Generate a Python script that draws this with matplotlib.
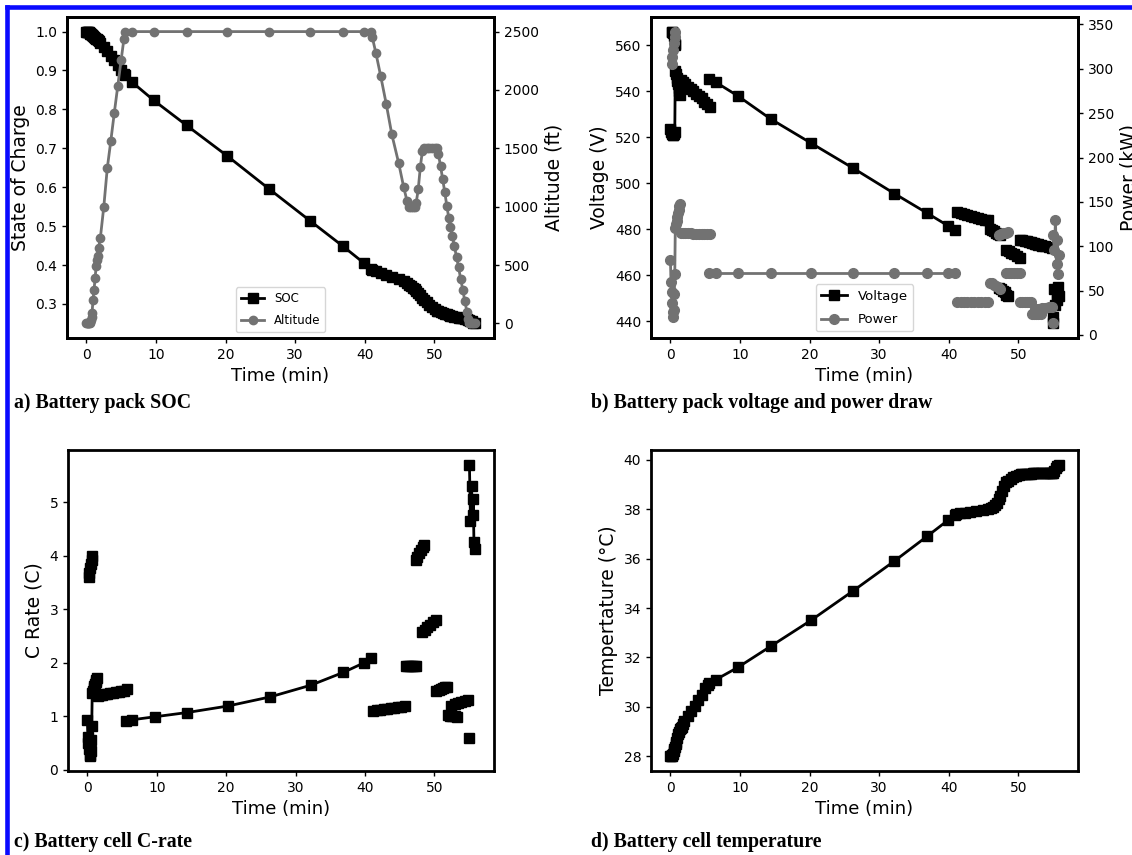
import numpy as np
import matplotlib
matplotlib.use('Agg')
import matplotlib.pyplot as plt
from matplotlib.lines import Line2D

# ---- data: continuous mission time series (panels a and d)
time_min = [0.0, 0.1, 0.2, 0.3,
            0.35, 0.45, 0.55, 0.65, 0.75,
            0.8, 0.95, 1.1, 1.25, 1.4, 1.5,
            1.6, 1.75, 2.0, 2.5, 3.0, 3.5, 4.0, 4.5, 5.0, 5.4,
            5.5, 6.5, 9.7, 14.4, 20.2, 26.3, 32.2, 36.9, 39.9, 40.9,
            41.1, 41.6, 42.3, 43.1, 43.9, 44.9, 45.6, 46.1,
            46.3, 46.6, 46.9, 47.2,
            47.4, 47.7, 48.0, 48.3,
            48.5, 48.9, 49.3, 49.7, 50.1, 50.4,
            50.6, 50.9, 51.2, 51.5, 51.8, 52.1,
            52.3, 52.6, 52.9, 53.2,
            53.5, 53.8, 54.1, 54.4, 54.7, 54.9,
            55.0,
            55.2, 55.4, 55.6, 55.8]

soc = [1.0, 1.0, 0.999, 0.999,
       0.998, 0.997, 0.995, 0.993, 0.991,
       0.990, 0.988, 0.986, 0.984, 0.982, 0.980,
       0.978, 0.975, 0.970, 0.960, 0.949, 0.938, 0.926, 0.914, 0.902, 0.892,
       0.888, 0.871, 0.823, 0.759, 0.681, 0.595, 0.513, 0.448, 0.405, 0.390,
       0.387, 0.384, 0.380, 0.375, 0.370, 0.364, 0.358, 0.353,
       0.350, 0.346, 0.342, 0.338,
       0.334, 0.328, 0.322, 0.316,
       0.311, 0.304, 0.298, 0.292, 0.287, 0.283,
       0.281, 0.279, 0.277, 0.275, 0.273, 0.271,
       0.270, 0.268, 0.267, 0.266,
       0.265, 0.264, 0.263, 0.262, 0.261, 0.260,
       0.259,
       0.257, 0.255, 0.252, 0.250]

altitude_ft = [0, 0, 0, 0,
               0, 5, 15, 30, 55,
               85, 200, 290, 390, 490, 540,
               580, 650, 730, 1000, 1330, 1560, 1800, 2030, 2260, 2440,
               2500, 2500, 2500, 2500, 2500, 2500, 2500, 2500, 2500, 2500,
               2450, 2320, 2120, 1880, 1620, 1370, 1170, 1045,
               1000, 1000, 1000, 1000,
               1030, 1150, 1340, 1480,
               1500, 1500, 1500, 1500, 1500, 1500,
               1450, 1350, 1240, 1130, 1010, 900,
               830, 750, 660, 570,
               480, 380, 290, 190, 100, 40,
               0,
               0, 0, 0, 0]

temperature_c = [28.0, 28.0, 28.02, 28.05,
                 28.1, 28.2, 28.3, 28.4, 28.5,
                 28.6, 28.75, 28.9, 29.0, 29.1, 29.15,
                 29.2, 29.3, 29.45, 29.65, 29.85, 30.05, 30.3, 30.5, 30.75, 30.9,
                 30.95, 31.1, 31.6, 32.45, 33.5, 34.7, 35.9, 36.9, 37.55, 37.75,
                 37.8, 37.83, 37.86, 37.9, 37.93, 37.97, 38.0, 38.05,
                 38.1, 38.15, 38.25, 38.4,
                 38.55, 38.75, 38.95, 39.1,
                 39.15, 39.22, 39.28, 39.33, 39.37, 39.4,
                 39.41, 39.42, 39.42, 39.43, 39.43, 39.44,
                 39.44, 39.44, 39.45, 39.45,
                 39.45, 39.45, 39.46, 39.46, 39.46, 39.47,
                 39.47,
                 39.55, 39.65, 39.75, 39.8]

# ---- data: mission segments (panels b and c), one inner list per segment
seg_time = [[0.0, 0.08, 0.16, 0.24, 0.32, 0.4, 0.48, 0.56, 0.63,
             0.7, 0.8, 0.9, 1.0, 1.1, 1.2, 1.3, 1.4],
            [0.2, 0.3, 0.4, 0.5, 0.6, 0.7],
            [1.5, 1.8, 2.1, 2.5, 2.9, 3.3, 3.7, 4.1, 4.5, 4.9, 5.3, 5.7],
            [5.5, 6.5, 9.7, 14.4, 20.2, 26.3, 32.2, 36.9, 39.9, 40.9],
            [41.2, 41.7, 42.2, 42.7, 43.2, 43.7, 44.2, 44.7, 45.2, 45.7],
            [45.9, 46.2, 46.5, 46.8, 47.1, 47.4],
            [47.3, 47.55, 47.8, 48.05, 48.3, 48.55],
            [48.2, 48.6, 49.0, 49.4, 49.8, 50.2],
            [50.3, 50.6, 50.9, 51.2, 51.5, 51.8],
            [52.0, 52.3, 52.6, 52.9, 53.2],
            [52.4, 52.9, 53.4, 53.9, 54.4, 54.9],
            [55.0],
            [55.05, 55.2, 55.35, 55.5, 55.6, 55.7, 55.8]]

seg_voltage = [[523.5, 522.5, 522, 521.5, 521, 521, 521.5, 522, 522.5,
                549, 547.5, 546, 544.5, 543, 541.5, 540, 538.5],
               [566, 566, 565.5, 564, 560.5, 560],
               [545, 544, 543, 542, 541, 540, 539, 538, 537, 535.5, 534.5, 533],
               [545.5, 544, 538, 528, 517.5, 506.5, 495.5, 487, 481.5, 479.5],
               [487.5, 487, 486.5, 486, 485.7, 485.3, 485, 484.6, 484.2, 483.8],
               [480, 479.5, 479, 478.5, 478, 477.5],
               [454.5, 454, 453, 452.5, 451.5, 451],
               [471, 470.3, 469.6, 469, 468.3, 467.6],
               [475.5, 475.2, 475, 474.8, 474.5, 474.3],
               [474, 473.8, 473.6, 473.4, 473.2],
               [473.5, 473.2, 472.9, 472.6, 472.3, 472],
               [439],
               [442, 454, 447, 452, 449, 455, 451]]

seg_power = [[85, 60, 48, 36, 26, 20, 28, 46, 69,
              121, 125, 129, 133, 137, 141, 145, 148],
             [305, 313, 321, 329, 336, 342],
             [115, 115, 114.5, 114.5, 114.5, 114, 114, 114, 114, 114, 114, 114],
             [69.5, 69.5, 69.5, 69.5, 69.5, 69.5, 69.5, 69.5, 69.5, 69.5],
             [37, 37, 37, 37, 37, 37, 37, 37, 37, 37],
             [59, 58, 56.5, 55, 53.5, 52],
             [113, 114, 115, 115, 115, 116],
             [70, 70, 70, 70, 70, 70],
             [37, 37, 37, 37, 37, 37],
             [24, 24, 24, 24, 24],
             [29, 29.5, 30, 30.5, 31, 31.5],
             [13],
             [113, 96, 130, 80, 107, 69, 90]]

seg_crate = [[0.93, 0.62, 0.5, 0.38, 0.28, 0.25, 0.35, 0.55, 0.81,
              1.44, 1.48, 1.52, 1.56, 1.6, 1.64, 1.68, 1.72],
             [3.6, 3.68, 3.76, 3.84, 3.92, 4.0],
             [1.38, 1.39, 1.4, 1.41, 1.42, 1.43, 1.44, 1.45, 1.46, 1.47, 1.48, 1.5],
             [0.92, 0.935, 0.99, 1.07, 1.19, 1.36, 1.58, 1.82, 2.0, 2.08],
             [1.1, 1.11, 1.12, 1.13, 1.14, 1.15, 1.16, 1.17, 1.18, 1.2],
             [1.93, 1.93, 1.93, 1.93, 1.93, 1.93],
             [3.92, 3.98, 4.04, 4.1, 4.16, 4.2],
             [2.58, 2.62, 2.67, 2.71, 2.76, 2.8],
             [1.48, 1.49, 1.51, 1.52, 1.54, 1.55],
             [1.02, 1.01, 1.0, 1.0, 0.99],
             [1.2, 1.22, 1.24, 1.26, 1.28, 1.3],
             [0.6],
             [5.7, 4.65, 5.3, 4.75, 5.05, 4.25, 4.12]]

captions = ['a) Battery pack SOC', 'b) Battery pack voltage and power draw',
            'c) Battery cell C-rate', 'd) Battery cell temperature']

plt.rcParams['font.family'] = 'DejaVu Sans'
GREY = '#727272'

W, H = 1132, 855
fig = plt.figure(figsize=(W / 100, H / 100), dpi=100)


def box(left, top, right, bottom):
    return [left / W, 1 - bottom / H, (right - left) / W, (bottom - top) / H]


def style(ax):
    for sp in ax.spines.values():
        sp.set_linewidth(2)
    ax.tick_params(labelsize=10, width=1, length=3.5)


ax_a = fig.add_axes(box(67, 17, 494, 338))
ax_b = fig.add_axes(box(651, 17, 1078, 338))
ax_c = fig.add_axes(box(68, 450, 494, 771))
ax_d = fig.add_axes(box(651, 450, 1078, 771))

# a) SOC and altitude
ax_a.plot(time_min, soc, color='black', marker='s', ms=6.5, lw=2, label='SOC')
ax_a2 = ax_a.twinx()
ax_a2.plot(time_min, altitude_ft, color=GREY, marker='o', ms=6, lw=2, label='Altitude')
ax_a.set_xlabel('Time (min)', fontsize=13)
ax_a.set_ylabel('State of Charge', fontsize=13.5)
ax_a2.set_ylabel('Altitude (ft)', fontsize=13.5)
h1, l1 = ax_a.get_legend_handles_labels()
h2, l2 = ax_a2.get_legend_handles_labels()
ax_a2.legend(h1 + h2, l1 + l2, loc='lower center', fontsize=8.5, labelspacing=0.8)

# b) voltage and power
ax_b2 = ax_b.twinx()
for i in range(len(seg_time)):
    ax_b.plot(seg_time[i], seg_voltage[i], color='black', marker='s', ms=7, lw=2,
              label='Voltage' if i == 0 else None)
    ax_b2.plot(seg_time[i], seg_power[i], color=GREY, marker='o', ms=7, lw=2,
               label='Power' if i == 0 else None)
ax_b.set_xlabel('Time (min)', fontsize=13)
ax_b.set_ylabel('Voltage (V)', fontsize=13.5)
ax_b2.set_ylabel('Power (kW)', fontsize=13.5)
h1, l1 = ax_b.get_legend_handles_labels()
h2, l2 = ax_b2.get_legend_handles_labels()
ax_b2.legend(h1 + h2, l1 + l2, loc='lower center', fontsize=9.5, labelspacing=0.8)

# c) C-rate
for i in range(len(seg_time)):
    ax_c.plot(seg_time[i], seg_crate[i], color='black', marker='s', ms=7.5, lw=2)
ax_c.set_xlabel('Time (min)', fontsize=13)
ax_c.set_ylabel('C Rate (C)', fontsize=13.5)

# d) temperature
ax_d.plot(time_min, temperature_c, color='black', marker='s', ms=7.5, lw=2)
ax_d.set_xlabel('Time (min)', fontsize=13)
ax_d.set_ylabel('Tempertature (°C)', fontsize=13.5)

for ax in [ax_a, ax_a2, ax_b, ax_b2, ax_c, ax_d]:
    style(ax)

# panel captions
cap_pos = [(14 / W, 1 - 403 / H), (591 / W, 1 - 403 / H),
           (14 / W, 1 - 842 / H), (591 / W, 1 - 842 / H)]
for (x, y), txt in zip(cap_pos, captions):
    fig.text(x, y, txt, family='Liberation Serif', fontweight='bold',
             fontsize=14.3, ha='left', va='center')

# blue frame (left and top edges)
fig.add_artist(Line2D([7 / W, 7 / W], [0, 1 - 7 / H], transform=fig.transFigure,
                      color='#0a0aff', lw=3.3))
fig.add_artist(Line2D([7 / W, 1], [1 - 7 / H, 1 - 7 / H], transform=fig.transFigure,
                      color='#0a0aff', lw=3.3))

fig.savefig('out.png', dpi=100)
